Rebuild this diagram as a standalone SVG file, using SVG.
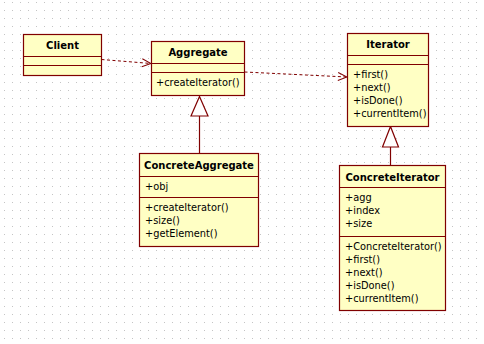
<svg xmlns="http://www.w3.org/2000/svg" width="484" height="344" viewBox="0 0 484 344">
<style>
.box{fill:#ffffc4;stroke:#800000;stroke-width:1.2}
.div{stroke:#800000;stroke-width:1.2}
.title{font-family:"DejaVu Sans",Verdana,sans-serif;font-weight:bold;font-size:10px;fill:#000;text-anchor:middle}
.mem{font-family:"DejaVu Sans",Verdana,sans-serif;font-size:9.8px;fill:#000}
.dep{fill:none;stroke:#800000;stroke-width:1;stroke-dasharray:3,2.5}
.gen{fill:none;stroke:#800000;stroke-width:1.2}
.tri{fill:#ffffff;stroke:#800000;stroke-width:1.2}
</style>
<defs>
<pattern id="grid" x="0" y="0" width="8" height="8" patternUnits="userSpaceOnUse">
<rect x="4" y="2" width="1" height="1" fill="#c4c4c4"/>
</pattern>
<marker id="open" viewBox="0 0 10 10" refX="10" refY="5" markerWidth="10" markerHeight="10" markerUnits="userSpaceOnUse" orient="auto">
<path d="M1,1 L10,5 L1,9" fill="none" stroke="#800000" stroke-width="1"/>
</marker>
</defs>
<rect width="484" height="344" fill="#ffffff"/>
<rect width="484" height="344" fill="url(#grid)"/>

<g id="connectors">
<line class="dep" x1="101.5" y1="59.5" x2="151" y2="63.5" marker-end="url(#open)"/>
<line class="dep" x1="244.5" y1="72" x2="347" y2="77" marker-end="url(#open)"/>
<line class="gen" x1="199.5" y1="116" x2="199.5" y2="153"/>
<polygon class="tri" points="199.5,96.5 191,116 208,116"/>
<line class="gen" x1="390.5" y1="147" x2="390.5" y2="165"/>
<polygon class="tri" points="390.5,126.5 382.5,147 398.5,147"/>
</g>

<g id="client">
<rect class="box" x="23.5" y="34.5" width="78" height="41"/>
<line class="div" x1="23.5" y1="56.5" x2="101.5" y2="56.5"/>
<line class="div" x1="23.5" y1="65.5" x2="101.5" y2="65.5"/>
<text class="title" x="62.5" y="49">Client</text>
</g>

<g id="aggregate">
<rect class="box" x="151.5" y="41.5" width="93" height="54"/>
<line class="div" x1="151.5" y1="63.5" x2="244.5" y2="63.5"/>
<line class="div" x1="151.5" y1="72.5" x2="244.5" y2="72.5"/>
<text class="title" x="198" y="56">Aggregate</text>
<text class="mem" x="156" y="86">+createIterator()</text>
</g>

<g id="iterator">
<rect class="box" x="347.5" y="33.5" width="81" height="93"/>
<line class="div" x1="347.5" y1="55.5" x2="428.5" y2="55.5"/>
<line class="div" x1="347.5" y1="64.5" x2="428.5" y2="64.5"/>
<text class="title" x="388" y="48">Iterator</text>
<text class="mem" x="353" y="78">+first()</text>
<text class="mem" x="353" y="91">+next()</text>
<text class="mem" x="353" y="104">+isDone()</text>
<text class="mem" x="353" y="117">+currentItem()</text>
</g>

<g id="concreteAggregate">
<rect class="box" x="139.5" y="153.5" width="119" height="93"/>
<line class="div" x1="139.5" y1="176.5" x2="258.5" y2="176.5"/>
<line class="div" x1="139.5" y1="197.5" x2="258.5" y2="197.5"/>
<text class="title" x="199" y="169">ConcreteAggregate</text>
<text class="mem" x="145" y="190">+obj</text>
<text class="mem" x="145" y="211">+createIterator()</text>
<text class="mem" x="145" y="224">+size()</text>
<text class="mem" x="145" y="237">+getElement()</text>
</g>

<g id="concreteIterator">
<rect class="box" x="339.5" y="165.5" width="106" height="145"/>
<line class="div" x1="339.5" y1="187.5" x2="445.5" y2="187.5"/>
<line class="div" x1="339.5" y1="236.5" x2="445.5" y2="236.5"/>
<text class="title" x="392.5" y="181">ConcreteIterator</text>
<text class="mem" x="345" y="201">+agg</text>
<text class="mem" x="345" y="214">+index</text>
<text class="mem" x="345" y="227">+size</text>
<text class="mem" x="345" y="250">+ConcreteIterator()</text>
<text class="mem" x="345" y="263">+first()</text>
<text class="mem" x="345" y="276">+next()</text>
<text class="mem" x="345" y="289">+isDone()</text>
<text class="mem" x="345" y="302">+currentItem()</text>
</g>
</svg>
